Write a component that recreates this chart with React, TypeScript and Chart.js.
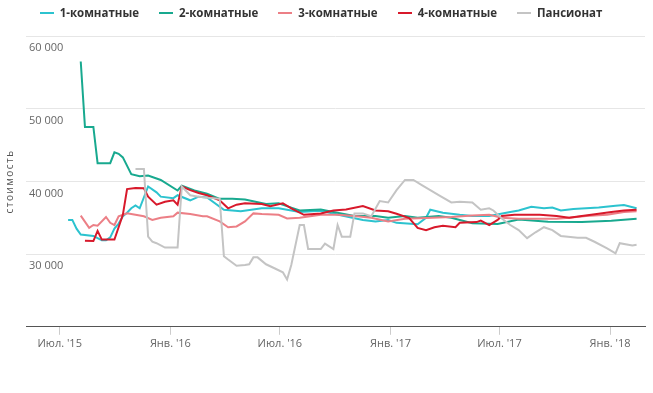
import React, { useEffect, useRef } from 'react';
import { Chart, registerables } from 'chart.js';

Chart.register(...registerables);

// x values are weeks counted from 1 July 2015
const seriesNames = ['1-комнатные', '2-комнатные', '3-комнатные', '4-комнатные', 'Пансионат'];
const seriesColors = ['#2cc3cf', '#18a98f', '#ec7f86', '#d8192b', '#c4c4c4'];

const tickWeeks = [0, 26.29, 52.29, 78.57, 104.43, 130.71];
const tickLabels = ["Июл. '15", "Янв. '16", "Июл. '16", "Янв. '17", "Июл. '17", "Янв. '18"];
const yTickValues = [20000, 30000, 40000, 50000, 60000];

const room1Weeks = [2, 3, 4, 5, 8, 9, 10, 11, 12, 13, 14, 15, 16, 17, 18, 19, 21, 23, 24, 27, 28, 31, 33, 35, 39, 43, 48, 52, 57, 62, 67, 72, 75, 78, 80, 85, 87, 88, 91, 95, 98, 102, 107, 109, 112, 115, 117, 119, 122, 128, 132, 134, 137];
const room1Values = [34700, 34700, 33500, 32700, 32500, 32200, 31900, 31900, 32300, 33500, 34200, 35200, 35700, 36300, 36700, 36300, 39300, 38500, 37900, 37700, 38100, 37400, 37900, 37800, 36100, 35900, 36300, 36300, 35800, 35950, 35300, 34700, 34500, 34700, 34300, 34100, 35000, 36100, 35700, 35400, 35250, 35250, 35800, 36000, 36500, 36300, 36400, 36000, 36200, 36400, 36650, 36750, 36300];

const room2Weeks = [5, 6, 8, 9, 12, 13, 14, 15, 17, 19, 21, 24, 28, 29, 32, 35, 38, 41, 44, 49, 52, 55, 57, 62, 65, 70, 75, 78, 82, 85, 90, 93, 98, 104, 109, 116, 124, 131, 137];
const room2Values = [56500, 47500, 47500, 42500, 42500, 44000, 43800, 43300, 41000, 40700, 40800, 40200, 38750, 39400, 38750, 38300, 37600, 37600, 37500, 36900, 37000, 36400, 36000, 36150, 35800, 35250, 35250, 35000, 35250, 35000, 35250, 35000, 34250, 34150, 34750, 34450, 34400, 34600, 34850];

const room3Weeks = [5, 7, 8, 9, 11, 12, 13, 14, 16, 18, 20, 22, 24, 27, 28, 31, 34, 35, 38, 40, 42, 44, 46, 48, 52, 54, 57, 62, 66, 70, 74, 78, 82, 87, 93, 98, 102, 105, 109, 118, 121, 125, 130, 134, 137];
const room3Values = [35300, 33600, 34000, 33900, 35100, 34300, 34000, 35200, 35600, 35400, 35200, 34700, 35000, 35200, 35700, 35500, 35200, 35200, 34500, 33700, 33800, 34500, 35600, 35500, 35400, 34900, 35000, 35400, 35400, 35250, 35000, 34500, 34850, 34950, 35100, 35300, 35400, 35000, 34850, 34850, 35000, 35250, 35400, 35800, 35900];

const room4Weeks = [6, 8, 9, 10, 13, 15, 16, 18, 20, 21, 23, 25, 27, 28, 29, 31, 33, 35, 38, 40, 42, 44, 48, 50, 53, 55, 58, 62, 65, 68, 72, 75, 78, 80, 83, 85, 87, 89, 91, 94, 95, 99, 100, 102, 104, 105, 108, 114, 118, 121, 124, 128, 131, 134, 137];
const room4Values = [31850, 31800, 33200, 32000, 32000, 35400, 38950, 39100, 39050, 37900, 36800, 37200, 37400, 36800, 39300, 38800, 38400, 38100, 37400, 36300, 36800, 37000, 36900, 36600, 37000, 36300, 35400, 35600, 36000, 36150, 36600, 36000, 35900, 35550, 34950, 33600, 33300, 33700, 33900, 33700, 34300, 34400, 34600, 34000, 34700, 35250, 35400, 35400, 35250, 35000, 35250, 35550, 35800, 36000, 36100];

const pensionWeeks = [18, 20, 21, 22, 23, 25, 28, 29, 31, 33, 36, 38, 39, 40, 42, 44, 45, 46, 47, 49, 51, 53, 54, 55, 57, 58, 59, 62, 63, 65, 66, 67, 69, 70, 72, 74, 76, 78, 80, 82, 84, 86, 88, 90, 93, 95, 98, 100, 102, 103, 105, 107, 109, 111, 113, 115, 117, 119, 123, 125, 127, 130, 132, 133, 136, 137];
const pensionValues = [41700, 41700, 32400, 31700, 31500, 30900, 30900, 39300, 38100, 37900, 37700, 37600, 29700, 29250, 28400, 28500, 28600, 29550, 29550, 28600, 28050, 27500, 26500, 28500, 34000, 34000, 30700, 30700, 31450, 30700, 34000, 32400, 32400, 35600, 35600, 35200, 37300, 37100, 38800, 40200, 40200, 39500, 38800, 38100, 37100, 37200, 37100, 36100, 36300, 36000, 34900, 34000, 33300, 32200, 33000, 33700, 33300, 32500, 32250, 32250, 31700, 30800, 30100, 31500, 31200, 31300];

const seriesWeeks = [room1Weeks, room2Weeks, room3Weeks, room4Weeks, pensionWeeks];
const seriesValues = [room1Values, room2Values, room3Values, room4Values, pensionValues];

const fmt = (v: number) => String(v).replace(/\B(?=(\d{3})+(?!\d))/g, ' ');

const FONT = "'Open Sans', 'Noto Sans', sans-serif";

const titleSpacing = {
  id: 'titleSpacing',
  beforeDraw(chart: any) {
    const s: any = chart.scales.y;
    if (s && !s.__patched) {
      const orig = s.drawTitle.bind(s);
      s.drawTitle = () => {
        const c: any = chart.ctx;
        c.save();
        c.letterSpacing = '1.5px';
        orig();
        c.restore();
      };
      s.__patched = true;
    }
  },
};

export default function App() {
  const ref = useRef<HTMLCanvasElement | null>(null);

  useEffect(() => {
    if (!ref.current) return;
    const datasets = seriesNames.map((name, i) => ({
      label: name,
      data: seriesWeeks[i].map((w, j) => ({ x: w, y: seriesValues[i][j] })),
      borderColor: seriesColors[i],
      backgroundColor: seriesColors[i],
      borderWidth: 2,
      pointRadius: 0,
      tension: 0,
      fill: false,
      order: seriesNames.length - i,
    }));
    const chart = new Chart(ref.current, {
      type: 'line',
      data: { datasets },
      options: {
        responsive: false,
        animation: false,
        layout: { padding: { top: 36, right: 8, bottom: 41, left: 0 } },
        plugins: { legend: { display: false }, tooltip: { enabled: false } },
        scales: {
          x: {
            type: 'linear',
            min: -8,
            max: 139,
            afterBuildTicks: (s: any) => {
              s.ticks = tickWeeks.map((v) => ({ value: v }));
            },
            ticks: {
              autoSkip: false,
              maxRotation: 0,
              padding: 2,
              color: '#666',
              font: { family: FONT, size: 11 },
              callback: (_v: any, i: number) => tickLabels[i],
            },
            grid: { drawOnChartArea: false, drawTicks: true, tickLength: 8, color: '#cccccc' },
            border: { display: true, color: '#555', width: 1 },
          },
          y: {
            type: 'linear',
            min: 20000,
            max: 60000,
            afterBuildTicks: (s: any) => {
              s.ticks = yTickValues.map((v) => ({ value: v }));
            },
            ticks: {
              mirror: true,
              padding: 3,
              labelOffset: 12,
              color: '#666',
              font: { family: FONT, size: 11 },
              callback: (v: any) => (v === 20000 ? null : fmt(v)),
            },
            grid: { color: '#e6e6e6', drawTicks: false },
            border: { display: false },
            title: {
              display: true,
              text: 'стоимость',
              color: '#555',
              font: { family: FONT, size: 10 },
              padding: { top: 4, bottom: 4 },
            },
          },
        },
      },
      plugins: [titleSpacing],
    } as any);
    return () => chart.destroy();
  }, []);

  return (
    <div style={{ position: 'fixed', left: 0, top: 0, width: 653, height: 393, background: '#fff' }}>
      <canvas ref={ref} width={653} height={393} style={{ display: 'block', width: 653, height: 393 }} />
      <div
        style={{
          position: 'absolute',
          left: 0,
          top: 3,
          width: 642,
          height: 19,
          display: 'flex',
          justifyContent: 'center',
          alignItems: 'center',
          gap: 20,
          fontFamily: FONT,
          fontWeight: 700,
          fontSize: 11.5,
          color: '#333',
        }}
      >
        {seriesNames.map((name, i) => (
          <div key={name} style={{ display: 'flex', alignItems: 'center' }}>
            <span style={{ display: 'inline-block', width: 14, height: 2, background: seriesColors[i], marginRight: 6 }} />
            <span style={{ whiteSpace: 'nowrap', lineHeight: '16px' }}>{name}</span>
          </div>
        ))}
      </div>
    </div>
  );
}
